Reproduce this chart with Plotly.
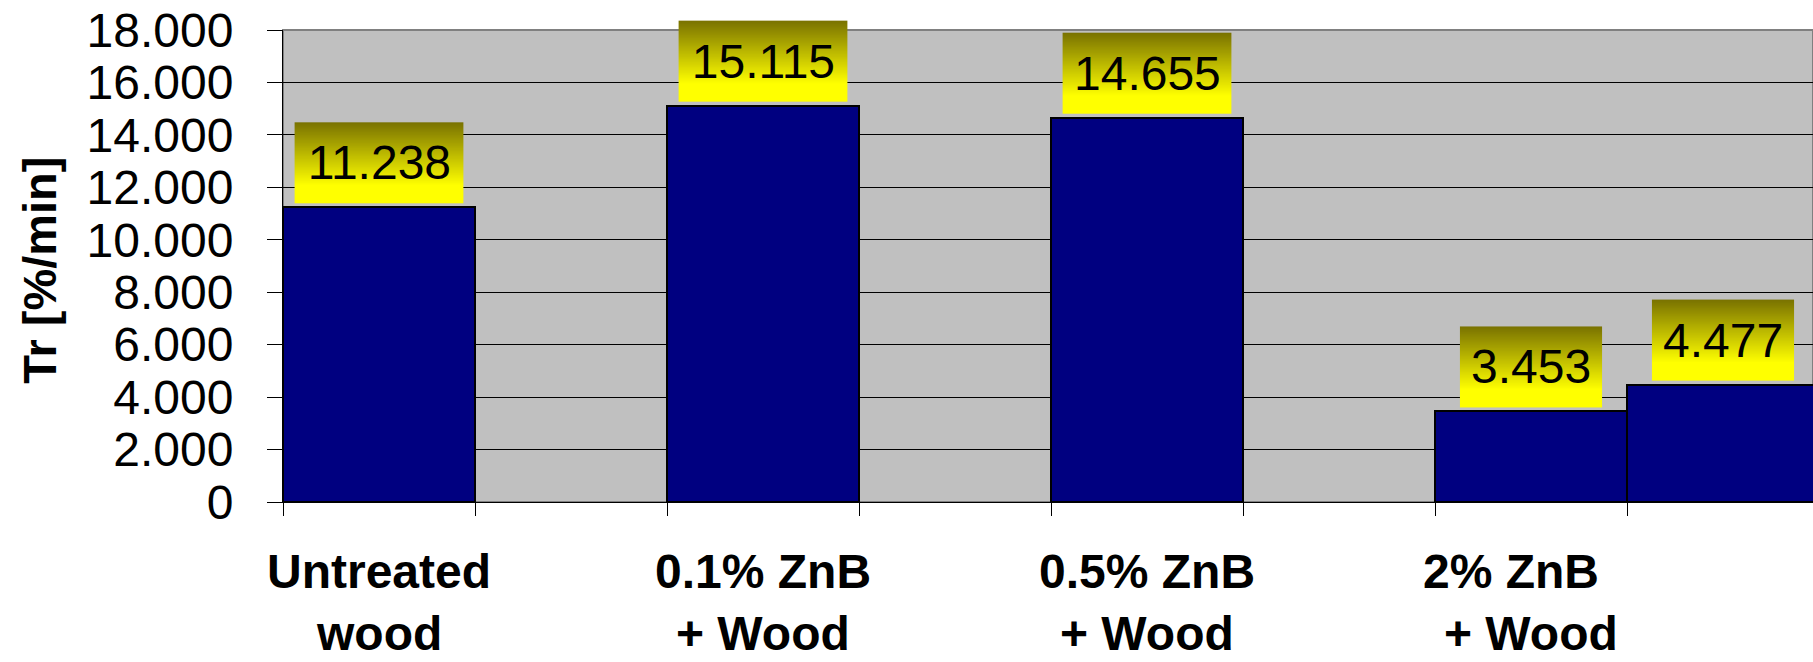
import base64
import struct
import zlib

import plotly.graph_objects as go

# Category slots along the x axis (empty strings are spacer slots)
categories = ["Untreated<br>wood", "", "0.1% ZnB<br>+ Wood", "", "0.5% ZnB<br>+ Wood",
              "", "2% ZnB&nbsp;&nbsp;&nbsp;<br>+ Wood", ""]
# Tr values [%/min], shown with "." as thousands separator
tr_values = [11238, None, 15115, None, 14655, None, 3453, 4477]
y_ticks = [0, 2000, 4000, 6000, 8000, 10000, 12000, 14000, 16000, 18000]

W, H = 1813, 662
M_L, M_R, M_T, M_B = 283, 0, 30, 160
PLOT_W = W - M_L - M_R
PLOT_H = H - M_T - M_B
SLOT_PX = 192
Y_MAX = 18000
X_RANGE = [-0.5, -0.5 + PLOT_W / SLOT_PX]

FONT = "Arial, 'Liberation Sans', Helvetica, sans-serif"
LABEL_SIZE = 48
BOX_H = 81
BOX_GAP = 4
LINE_TOP = 43
LINE_STEP = 62


def png_gradient(top, bottom, stop, n=96, w=4):
    """Vertical gradient PNG: top colour fading to bottom colour by `stop`."""
    raw = b""
    for r in range(n):
        f = min((r / (n - 1)) / stop, 1.0)
        c = bytes(int(round(a + (b - a) * f)) for a, b in zip(top, bottom))
        raw += b"\x00" + c * w

    def chunk(tag, data):
        return (struct.pack(">I", len(data)) + tag + data
                + struct.pack(">I", zlib.crc32(tag + data) & 0xFFFFFFFF))

    png = (b"\x89PNG\r\n\x1a\n"
           + chunk(b"IHDR", struct.pack(">IIBBBBB", w, n, 8, 2, 0, 0, 0))
           + chunk(b"IDAT", zlib.compress(raw))
           + chunk(b"IEND", b""))
    return "data:image/png;base64," + base64.b64encode(png).decode()


label_bg = png_gradient((122, 115, 0), (255, 255, 0), 0.78)

# approximate Arial advance widths (em) for label text
ADV = {".": 0.278}


def text_px(s, size):
    return sum(ADV.get(ch, 0.556) for ch in s) * size


def fmt(v):
    return f"{v:,.0f}".replace(",", ".")


x_idx = list(range(len(categories)))

fig = go.Figure()
fig.add_trace(go.Bar(
    x=x_idx,
    y=tr_values,
    width=1.0,
    marker=dict(color="#000080", line=dict(color="#000000", width=2)),
    hoverinfo="skip",
))

annotations = []
images = []
for i, v in zip(x_idx, tr_values):
    if v is None:
        continue
    label = fmt(v)
    box_w = text_px(label, LABEL_SIZE) + 22
    images.append(dict(
        source=label_bg, xref="x", yref="paper",
        x=i, y=v / Y_MAX + BOX_GAP / PLOT_H,
        sizex=box_w / SLOT_PX, sizey=BOX_H / PLOT_H,
        xanchor="center", yanchor="bottom",
        sizing="stretch", layer="above",
    ))
    annotations.append(dict(
        x=i, y=v, xref="x", yref="y", text=label, showarrow=False,
        xanchor="center", yanchor="bottom", yshift=BOX_GAP,
        width=box_w, height=BOX_H, borderpad=0, borderwidth=0,
        valign="middle", font=dict(family=FONT, size=LABEL_SIZE, color="#000000"),
    ))

# category labels below the axis, one annotation per text line
for i, name in zip(x_idx, categories):
    if not name:
        continue
    for k, line in enumerate(name.split("<br>")):
        annotations.append(dict(
            x=i, y=0, xref="x", yref="paper", text="<b>" + line + "</b>",
            showarrow=False, xanchor="center", yanchor="top",
            yshift=-LINE_TOP - k * LINE_STEP,
            borderpad=0, borderwidth=0,
            align="center", font=dict(family=FONT, size=48, color="#000000"),
        ))

# y axis title
annotations.append(dict(
    x=(40 - M_L) / PLOT_W, y=0.49, xref="paper", yref="paper",
    text="<b>Tr [%/min]</b>", textangle=-90, showarrow=False,
    xanchor="center", yanchor="middle",
    font=dict(family=FONT, size=47, color="#000000"),
))

fig.update_layout(
    width=W, height=H,
    margin=dict(l=M_L, r=M_R, t=M_T, b=M_B, pad=0),
    paper_bgcolor="#FFFFFF",
    plot_bgcolor="#C0C0C0",
    separators=",.",
    showlegend=False,
    bargap=0,
    annotations=annotations,
    images=images,
    shapes=[dict(type="rect", xref="paper", yref="paper", x0=0, x1=1, y0=0, y1=1,
                 line=dict(color="#808080", width=2), layer="below")],
    xaxis=dict(
        range=X_RANGE,
        tickmode="array",
        tickvals=[k - 0.5 for k in range(len(categories) + 1)],
        showticklabels=False,
        ticks="outside", ticklen=13, tickcolor="#000000", tickwidth=1,
        showgrid=False, zeroline=False,
        showline=True, linecolor="#000000", linewidth=1,
    ),
    yaxis=dict(
        range=[0, Y_MAX],
        tickmode="array", tickvals=y_ticks,
        tickformat=",.0f",
        ticks="outside", ticklen=15, tickcolor="#000000", tickwidth=1,
        ticklabelstandoff=24,
        tickfont=dict(family=FONT, size=48, color="#000000"),
        showgrid=True, gridcolor="#000000", gridwidth=1,
        zeroline=False,
        showline=True, linecolor="#000000", linewidth=1,
    ),
)

fig.write_html("out.html")
